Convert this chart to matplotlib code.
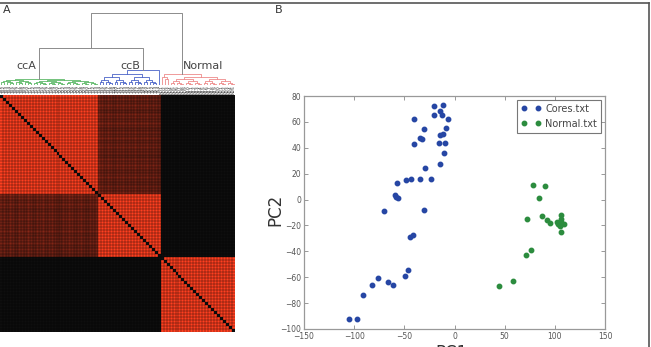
import numpy as np
import matplotlib
matplotlib.use("Agg")
import matplotlib.pyplot as plt
from matplotlib.colors import LinearSegmentedColormap
from matplotlib.lines import Line2D

# ---- data ----
cluster_names = ["ccA", "ccB", "Normal"]
cluster_sizes = [33, 21, 25]
cluster_colors = ["#5cb866", "#4a63c8", "#ee8a8a"]
# size of the left child at the first split of each cluster
first_split = [11, 20, 3]
# sub-dendrogram split heights per depth (inside each cluster)
cluster_heights = [[6.5, 5.0, 4.0, 3.0, 2.2, 1.4],
                   [15.0, 11.0, 8.0, 5.5, 3.5, 2.0],
                   [11.0, 8.5, 6.0, 4.0, 2.5, 1.5]]
merge_ccA_ccB = 37.5
merge_top = 72.0

# similarity inside blocks and between blocks
within_sim = [1.0, 1.0, 1.0]
ccA_profile = [0.42, 0.45, 0.40, 0.47, 0.43, 0.38, 0.46, 0.44, 0.41, 0.48, 0.43,
               0.39, 0.45, 0.42, 0.47, 0.40, 0.44, 0.46, 0.41, 0.43, 0.38, 0.45,
               0.42, 0.47, 0.44, 0.40, 0.43, 0.46, 0.41, 0.39, 0.44, 0.42, 0.45]
ccB_profile = [1.10, 1.05, 0.95, 1.08, 1.00, 0.92, 1.04, 0.98, 1.06, 0.94, 1.02,
               0.96, 1.07, 0.93, 1.01, 0.97, 1.05, 0.90, 0.99, 0.95, 0.88]
normal_vs_cores = 0.0

cores_x = [-105, -96.7, -91.3, -82.3, -76.7, -66, -61.3, -49.3, -46.3, -44.3, -41,
           -70, -30, -59.3, -58, -56.3, -57.7, -48.3, -43.3, -34.7, -23.3, -29.3,
           -14.7, -10.3, -15.3, -9.7, -40.3, -34, -32, -14.7, -11.7, -8.3, -30.3,
           -40.7, -20.7, -20, -11.3, -14.7, -12.3, -6]
cores_y = [-92.5, -92.3, -74, -65.8, -60.4, -63.5, -66.1, -59.2, -54.5, -29.1, -27.6,
           -8.8, -7.8, 3.5, 2.2, 1.4, 12.7, 15, 16, 15.8, 15.6, 24,
           27.6, 35.8, 43.5, 43.5, 42.8, 47.9, 47.1, 49.7, 50.7, 55, 54.8,
           62.3, 65.4, 72, 73.3, 68.2, 65.4, 62.5]
normal_x = [43.9, 58.8, 71.7, 76.3, 72.3, 78.6, 90.5, 84.2, 87.2, 92.5, 95.5,
            102, 103.4, 105.7, 106.4, 105.7, 105, 108.7, 106]
normal_y = [-66.6, -62.7, -43, -38.9, -15, 11.2, 10.2, 1.2, -12.9, -15.5, -18.1,
            -17, -19.1, -11.7, -14.7, -17.3, -20.1, -18.8, -25]

n = sum(cluster_sizes)
starts = np.cumsum([0] + cluster_sizes)
sample_labels = (["T%02d" % (i + 1) for i in range(cluster_sizes[0] + cluster_sizes[1])]
                 + ["N%02d" % (i + 1) for i in range(cluster_sizes[2])])

# similarity matrix from the block values
sim = np.zeros((n, n))
for k in range(3):
    sim[starts[k]:starts[k + 1], starts[k]:starts[k + 1]] = within_sim[k]
off = np.outer(ccA_profile, ccB_profile)
sim[starts[0]:starts[1], starts[1]:starts[2]] = off
sim[starts[1]:starts[2], starts[0]:starts[1]] = off.T
sim[starts[2]:, :starts[2]] = normal_vs_cores
sim[:starts[2], starts[2]:] = normal_vs_cores
np.fill_diagonal(sim, 0)

fig = plt.figure(figsize=(6.51, 3.47), dpi=100)

# ---- heatmap ----
cmap = LinearSegmentedColormap.from_list("br", ["#0e0e0e", "#ff4020"])
axh = fig.add_axes([0.0, 15 / 347, 235 / 651, 237 / 347])
axh.imshow(sim, cmap=cmap, vmin=0, vmax=1, interpolation="nearest", aspect="auto",
           extent=(0, n, n, 0))
grid = np.arange(1, n)
axh.vlines(grid, 0, n, color="black", lw=0.35, alpha=0.7)
axh.hlines(grid, 0, n, color="black", lw=0.35, alpha=0.7)
axh.set_xlim(0, n)
axh.set_ylim(n, 0)
axh.xaxis.tick_top()
axh.set_xticks(np.arange(n) + 0.5)
axh.set_xticklabels(sample_labels, rotation=90, fontsize=3.2, color="#222222")
axh.tick_params(axis="x", length=0, pad=0.8)
axh.set_yticks([])
for s in axh.spines.values():
    s.set_visible(False)

# ---- dendrogram ----
axd = fig.add_axes([0.0, (347 - 85) / 347, 235 / 651, 75 / 347])
axd.set_xlim(0, n)
axd.set_ylim(0, 75)
axd.axis("off")


def draw_tree(lo, hi, heights, depth, color, split=None):
    # returns (x, height) of the node covering leaves lo..hi-1
    if hi - lo == 1:
        return lo + 0.5, 0.0
    mid = lo + split if split else (lo + hi) // 2
    h = heights[min(depth, len(heights) - 1)] * (0.7 if depth >= len(heights) else 1)
    xl, hl = draw_tree(lo, mid, heights, depth + 1, color)
    xr, hr = draw_tree(mid, hi, heights, depth + 1, color)
    axd.plot([xl, xl, xr, xr], [hl, h, h, hr], color=color, lw=0.6)
    return (xl + xr) / 2, h


nodes = []
for k in range(3):
    nodes.append(draw_tree(starts[k], starts[k + 1], cluster_heights[k], 0,
                           cluster_colors[k], first_split[k]))

grey = "#8c8c8c"
xa, ha = nodes[0]
xb, hb = nodes[1]
xab = (xa + xb) / 2
axd.plot([xa, xa, xb, xb], [ha, merge_ccA_ccB, merge_ccA_ccB, hb], color=grey, lw=0.7)
xn, hn = nodes[2]
axd.plot([xab, xab, xn, xn], [merge_ccA_ccB, merge_top, merge_top, hn], color=grey, lw=0.7)

axd.text(xa - 1, 19, cluster_names[0], ha="right", va="center", fontsize=8, color="#444444")
axd.text(xb - 1, 19, cluster_names[1], ha="right", va="center", fontsize=8, color="#444444")
axd.text(xn + 0.2, 19, cluster_names[2], ha="left", va="center", fontsize=8, color="#444444")

# ---- scatter ----
ax = fig.add_axes([304 / 651, 18 / 347, 301 / 651, 233 / 347])
ax.plot(cores_x, cores_y, "o", color="#2646a4", mec="#2646a4", ms=3.2, label="Cores.txt")
ax.plot(normal_x, normal_y, "o", color="#2c8c3e", mec="#2c8c3e", ms=3.2, label="Normal.txt")
ax.set_xlim(-150, 150)
ax.set_ylim(-100, 80)
ax.set_xticks(np.arange(-150, 151, 50))
ax.set_yticks(np.arange(-100, 81, 20))
ax.tick_params(direction="in", top=True, right=True, length=3, width=0.6,
               labelsize=5.5, labelcolor="#555555", color="#888888", pad=2)
for s in ax.spines.values():
    s.set_color("#999999")
    s.set_linewidth(0.9)
ax.set_ylabel("PC2", fontsize=12, color="#333333")
ax.yaxis.set_label_coords(-0.065, 0.51)
ax.set_xlabel("PC1", fontsize=12, color="#333333")
ax.xaxis.set_label_coords(0.49, -0.065)
leg = ax.legend(loc="upper right", numpoints=2, fontsize=7, fancybox=False,
                borderaxespad=0.4, handletextpad=0.5, borderpad=0.4, labelspacing=0.5)
leg.get_frame().set_edgecolor("#555555")
leg.get_frame().set_linewidth(0.8)
for t in leg.get_texts():
    t.set_color("#444444")

# panel letters and frame
fig.text(3 / 651, 1 - 10 / 347, "A", fontsize=8, color="#333333", va="center", ha="left")
fig.text(275 / 651, 1 - 10 / 347, "B", fontsize=8, color="#333333", va="center", ha="left")
fig.add_artist(Line2D([0, 649 / 651], [1 - 3 / 347, 1 - 3 / 347], color="#555555", lw=1.2))
fig.add_artist(Line2D([649 / 651, 649 / 651], [0, 1 - 3 / 347], color="#555555", lw=1.2))

fig.savefig("out.png", dpi=100)
